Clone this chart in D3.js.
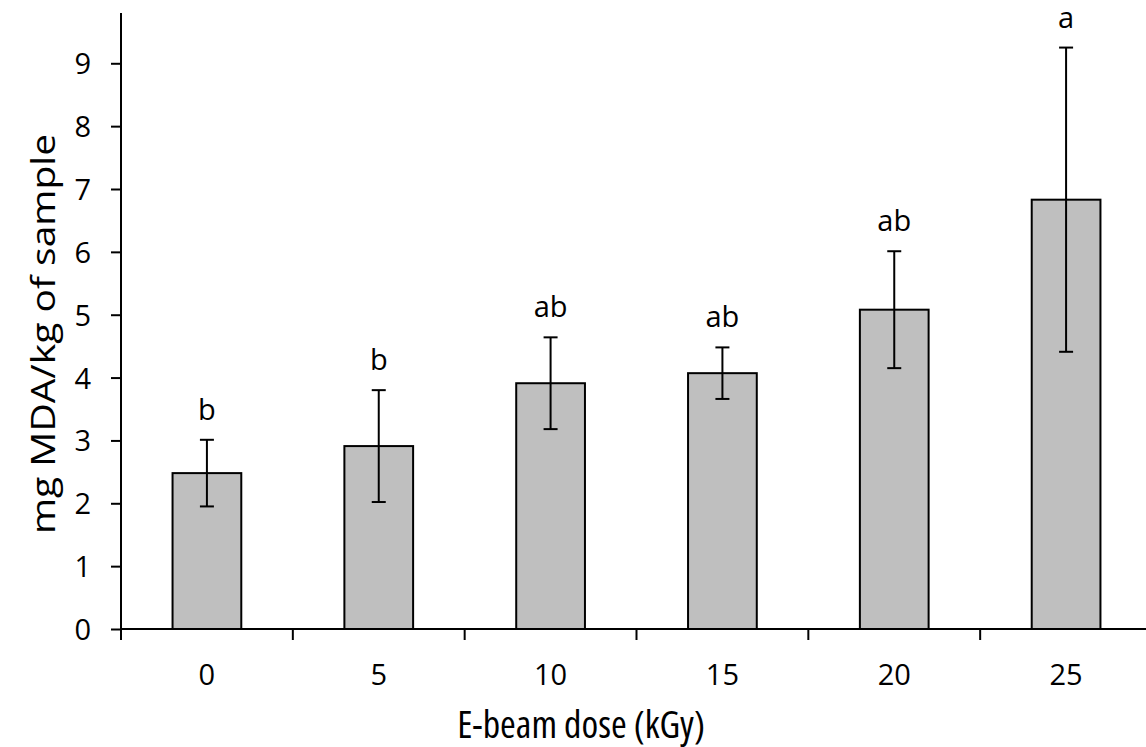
<!DOCTYPE html>
<html lang="en">
<head>
<meta charset="utf-8">
<title>MDA vs E-beam dose</title>
<script src="https://d3js.org/d3.v7.min.js"></script>
<style>
  body { margin: 0; background: white; }
  text { font-family: "Open Sans", sans-serif; fill: #000; }
  .bar { fill: #bfbfbf; stroke: #000; stroke-width: 2; }
  .err { stroke: #000; stroke-width: 2; fill: none; }
  .axis path, .axis line { stroke: #000; stroke-width: 2; }
</style>
</head>
<body>
<div id="chart"></div>
<script>
// data
var doses = ["0", "5", "10", "15", "20", "25"];
var mda = [2.48, 2.91, 3.91, 4.07, 5.08, 6.83];
var sd = [0.53, 0.89, 0.73, 0.41, 0.93, 2.42];
var letters = ["b", "b", "ab", "ab", "ab", "a"];
var yTicks = [0, 1, 2, 3, 4, 5, 6, 7, 8, 9];

var width = 1146, height = 747;
var plot = {left: 121, right: 1152, top: 13, bottom: 629};

var svg = d3.select("#chart").append("svg")
    .attr("width", width)
    .attr("height", height);

var x = d3.scaleBand()
    .domain(doses)
    .range([plot.left, plot.right])
    .paddingInner(0.6)
    .paddingOuter(0.3);

var y = d3.scaleLinear()
    .domain([0, 9.8])
    .range([plot.bottom, plot.top]);

function mid(i) { return x(doses[i]) + x.bandwidth() / 2; }

// bars
svg.selectAll(".bar")
    .data(mda)
    .enter().append("rect")
    .attr("class", "bar")
    .attr("x", function(d, i) { return x(doses[i]); })
    .attr("y", function(d) { return y(d); })
    .attr("width", x.bandwidth())
    .attr("height", function(d) { return y(0) - y(d); });

// error bars
var cap = 7;
var eb = svg.selectAll(".eb")
    .data(mda)
    .enter().append("g")
    .attr("class", "eb");

eb.append("line").attr("class", "err")
    .attr("x1", function(d, i) { return mid(i); })
    .attr("x2", function(d, i) { return mid(i); })
    .attr("y1", function(d, i) { return y(d - sd[i]); })
    .attr("y2", function(d, i) { return y(d + sd[i]); });

[1, -1].forEach(function(sign) {
    eb.append("line").attr("class", "err")
        .attr("x1", function(d, i) { return mid(i) - cap; })
        .attr("x2", function(d, i) { return mid(i) + cap; })
        .attr("y1", function(d, i) { return y(d + sign * sd[i]); })
        .attr("y2", function(d, i) { return y(d + sign * sd[i]); });
});

// significance letters
svg.selectAll(".letter")
    .data(letters)
    .enter().append("text")
    .attr("class", "letter")
    .attr("x", function(d, i) { return mid(i); })
    .attr("y", function(d, i) { return y(mda[i] + sd[i]) - 20; })
    .attr("text-anchor", "middle")
    .style("font-size", "29px")
    .style("font-stretch", "88%")
    .text(function(d) { return d; });

// y axis
var yAxis = svg.append("g")
    .attr("class", "axis")
    .attr("transform", "translate(" + plot.left + ",0)")
    .call(d3.axisLeft(y).tickValues(yTicks).tickSize(10).tickSizeOuter(0).tickPadding(20));
yAxis.select(".domain").attr("d", "M0," + (plot.bottom + 11) + "V" + plot.top);
yAxis.selectAll("text")
    .style("font-size", "29px")
    .style("font-stretch", "88%")
    .style("font-family", "'Open Sans', sans-serif")
    .attr("dy", "0.36em");

// x axis: ticks sit between categories
var bounds = doses.map(function(d) { return x(d) - x.step() * 0.3; }).concat([plot.right]);
var xg = svg.append("g").attr("class", "axis");
xg.append("line")
    .attr("x1", plot.left).attr("x2", plot.right)
    .attr("y1", plot.bottom).attr("y2", plot.bottom);
xg.selectAll(".xt")
    .data(bounds)
    .enter().append("line")
    .attr("x1", function(d) { return d; }).attr("x2", function(d) { return d; })
    .attr("y1", plot.bottom).attr("y2", plot.bottom + 11);
xg.selectAll(".xl")
    .data(doses)
    .enter().append("text")
    .attr("x", function(d) { return x(d) + x.bandwidth() / 2; })
    .attr("y", 685)
    .attr("text-anchor", "middle")
    .style("font-size", "29px")
    .style("font-stretch", "88%")
    .text(function(d) { return d; });

// axis titles
svg.append("text")
    .attr("x", 581)
    .attr("y", 738)
    .attr("text-anchor", "middle")
    .style("font-size", "38px")
    .style("font-stretch", "77%")
    .text("E-beam dose (kGy)");

svg.append("text")
    .attr("transform", "translate(55,334) rotate(-90) scale(1,0.84)")
    .attr("text-anchor", "middle")
    .style("font-size", "39px")
    .text("mg MDA/kg of sample");
</script>
</body>
</html>
